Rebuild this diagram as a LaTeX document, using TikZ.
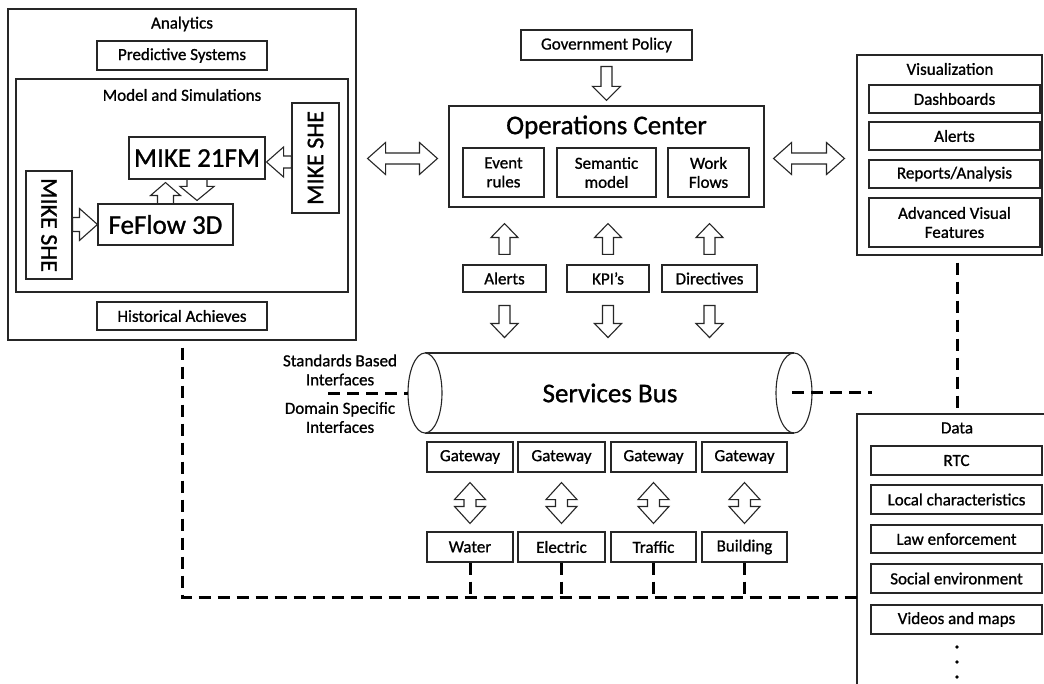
\documentclass[tikz,border=0pt]{standalone}
\usepackage{fontspec}
\setmainfont{Carlito}[FakeBold=1.0]
\usetikzlibrary{calc}
\newcommand\lblfnt{\fontsize{17}{19}\selectfont}
\newcommand\bigfnt{\fontsize{27}{29}\selectfont}
\newcommand\mikefnt{\fontsize{24}{26}\selectfont}
\tikzset{
 box/.style={draw=black!85, line width=1.1pt, fill=white, inner sep=0pt, align=center, font=\lblfnt},
 plain/.style={inner sep=0pt, align=center, font=\lblfnt},
 blk/.style={draw=black!85, line width=1.1pt, fill=white, line join=miter},
 busline/.style={draw=black!85, line width=1.1pt},
 dashline/.style={line width=3pt, dash pattern=on 12pt off 7pt},
}
% #1 tail, #2 tip, #3 shaft half width, #4 head half width, #5 head length
\newcommand\blkDown[5]{\draw[blk] let \p1=#1, \p2=#2 in (\x2-#3,\y1) -- (\x2+#3,\y1) -- (\x2+#3,\y2+#5) -- (\x2+#4,\y2+#5) -- (\x2,\y2) -- (\x2-#4,\y2+#5) -- (\x2-#3,\y2+#5) -- cycle;}
\newcommand\blkUp[5]{\draw[blk] let \p1=#1, \p2=#2 in (\x2-#3,\y1) -- (\x2+#3,\y1) -- (\x2+#3,\y2-#5) -- (\x2+#4,\y2-#5) -- (\x2,\y2) -- (\x2-#4,\y2-#5) -- (\x2-#3,\y2-#5) -- cycle;}
\newcommand\blkLeft[5]{\draw[blk] let \p1=#1, \p2=#2 in (\x1,\y2+#3) -- (\x1,\y2-#3) -- (\x2+#5,\y2-#3) -- (\x2+#5,\y2-#4) -- (\x2,\y2) -- (\x2+#5,\y2+#4) -- (\x2+#5,\y2+#3) -- cycle;}
\newcommand\blkRight[5]{\draw[blk] let \p1=#1, \p2=#2 in (\x1,\y2+#3) -- (\x1,\y2-#3) -- (\x2-#5,\y2-#3) -- (\x2-#5,\y2-#4) -- (\x2,\y2) -- (\x2-#5,\y2+#4) -- (\x2-#5,\y2+#3) -- cycle;}
\newcommand\blkDblH[5]{\draw[blk] let \p1=#1, \p2=#2 in (\x1,\y1) -- (\x1+#5,\y1+#4) -- (\x1+#5,\y1+#3) -- (\x2-#5,\y1+#3) -- (\x2-#5,\y1+#4) -- (\x2,\y1) -- (\x2-#5,\y1-#4) -- (\x2-#5,\y1-#3) -- (\x1+#5,\y1-#3) -- (\x1+#5,\y1-#4) -- cycle;}
\newcommand\blkDblV[5]{\draw[blk] let \p1=#1, \p2=#2 in (\x1,\y1) -- (\x1+#4,\y1-#5) -- (\x1+#3,\y1-#5) -- (\x1+#3,\y2+#5) -- (\x1+#4,\y2+#5) -- (\x1,\y2) -- (\x1-#4,\y2+#5) -- (\x1-#3,\y2+#5) -- (\x1-#3,\y1-#5) -- (\x1-#4,\y1-#5) -- cycle;}

\begin{document}
\begin{tikzpicture}[x=1pt,y=-1pt]
\useasboundingbox (0,0) rectangle (1044,684);
\fill[white] (0,0) rectangle (1044,684);

% ---------- Analytics ----------
\node[box, minimum width=348pt, minimum height=331pt] (analytics) at (182,174.5) {};
\node[plain] (analyticslbl) at (182,24) {Analytics};
\node[box, minimum width=170pt, minimum height=29pt] (predictive) at (182,55.5) {Predictive Systems};
\node[box, minimum width=332pt, minimum height=213pt] (modelsim) at (182,185.5) {};
\node[plain] (modellbl) at (182,95) {Model and Simulations};
\node[box, minimum width=47pt, minimum height=110pt] (mikeR) at (315.5,158) {\rotatebox{90}{\mikefnt MIKE SHE}};
\node[box, minimum width=46pt, minimum height=108pt] (mikeL) at (49,225) {\rotatebox{-90}{\mikefnt MIKE SHE}};
\node[box, minimum width=136pt, minimum height=42pt, font=\bigfnt] (mike21) at (197,158) {MIKE 21FM};
\node[box, minimum width=135pt, minimum height=41pt, font=\bigfnt] (feflow) at (165.5,224.5) {FeFlow 3D};
\node[box, minimum width=170pt, minimum height=28pt] (historical) at (182,316) {Historical Achieves};

\blkLeft{(mikeR.west |- mike21.east)}{($(mike21.east)+(1,4)$)}{6pt}{15pt}{17pt}
\blkRight{(mikeL.east)}{(feflow.west)}{7pt}{16pt}{18pt}
\draw[blk, fill=none] let \p1=(feflow.north), \p2=($(feflow.north |- mike21.south)+(0,3)$) in
  (\x1-8pt,\y1) -- (\x1-8pt,\y2-13pt) -- (\x1-15pt,\y2-13pt) -- (\x1,\y2) -- (\x1+15pt,\y2-13pt) -- (\x1+8pt,\y2-13pt) -- (\x1+8pt,\y1);
\draw[blk, fill=none] let \p1=(mike21.south), \p2=($(mike21.south |- feflow.north)+(0,-3)$) in
  (\x1-10pt,\y1) -- (\x1-10pt,\y2+14pt) -- (\x1-17pt,\y2+14pt) -- (\x1,\y2) -- (\x1+17pt,\y2+14pt) -- (\x1+10pt,\y2+14pt) -- (\x1+10pt,\y1);

% ---------- Operations ----------
\node[box, minimum width=171pt, minimum height=30pt] (gov) at (606.5,45) {Government Policy};
\node[box, minimum width=315pt, minimum height=101pt] (ops) at (606.5,156.5) {};
\node[plain, font=\bigfnt] (opslbl) at (606.5,127) {Operations Center};
\node[box, minimum width=81pt, minimum height=49pt] (event) at (503.5,172.5) {Event\\rules};
\node[box, minimum width=99pt, minimum height=49pt] (semantic) at (606.5,172.5) {Semantic\\model};
\node[box, minimum width=81pt, minimum height=49pt] (work) at (708.5,172.5) {Work\\Flows};
\node[box, minimum width=83pt, minimum height=27pt] (alerts) at (504.5,278.5) {Alerts};
\node[box, minimum width=82pt, minimum height=27pt] (kpi) at (608,278.5) {KPI’s};
\node[box, minimum width=95pt, minimum height=27pt] (directives) at (709.5,278.5) {Directives};

\blkDown{($(gov.south)+(0,6)$)}{($(ops.north)+(0,-5)$)}{5.5pt}{14pt}{14pt}
\foreach \bx in {alerts,kpi,directives}{
  \blkUp{($(\bx.north)+(0,-10)$)}{($(\bx.north |- ops.south)+(0,16)$)}{5.5pt}{13.5pt}{14pt}
  \blkDown{($(\bx.south)+(0,13)$)}{($(\bx.south)+(0,45)$)}{5.5pt}{13.5pt}{14pt}
}

% ---------- Visualization ----------
\node[box, minimum width=185pt, minimum height=200pt] (viz) at (949.5,155) {};
\node[plain] (vizlbl) at (950,69) {Visualization};
\node[box, minimum width=171pt, minimum height=28pt] (dash) at (954.5,99) {Dashboards};
\node[box, minimum width=171pt, minimum height=28pt] (valerts) at (954.5,136) {Alerts};
\node[box, minimum width=171pt, minimum height=28pt] (reports) at (954.5,174) {Reports/Analysis};
\node[box, minimum width=171pt, minimum height=49pt] (advanced) at (954.5,222.5) {Advanced Visual\\Features};

\blkDblH{($(analytics.east |- ops.west)+(11,2)$)}{($(ops.west)+(-11,2)$)}{5.5pt}{16pt}{18pt}
\blkDblH{($(ops.east)+(9,2)$)}{($(viz.west |- ops.east)+(-12,2)$)}{5.5pt}{16pt}{18pt}

% ---------- Services bus ----------
\fill[white] (425,353) rectangle (794,433);
\draw[busline] (425,353) -- (794,353);
\draw[busline] (425,433) -- (794,433);
\draw[busline, fill=white] (425,393) ellipse[x radius=17, y radius=40];
\draw[busline] (794,393) ellipse[x radius=18, y radius=40];
\node[plain, font=\bigfnt] (bus) at (610,393) {Services Bus};
\coordinate (busL) at (408,394);
\coordinate (busR) at (792,393);
\coordinate (ifc) at (328,394);
\coordinate (busout) at (872,393);
\node[plain] (std) at (340,370) {Standards Based\\Interfaces};
\node[plain] (dom) at (340,417.5) {Domain Specific\\Interfaces};

\node[box, minimum width=86pt, minimum height=30pt] (g1) at (470,457) {Gateway};
\node[box, minimum width=87pt, minimum height=30pt] (g2) at (561.5,457) {Gateway};
\node[box, minimum width=85pt, minimum height=30pt] (g3) at (653.5,457) {Gateway};
\node[box, minimum width=85pt, minimum height=30pt] (g4) at (744.5,457) {Gateway};
\node[box, minimum width=86pt, minimum height=30pt] (w1) at (470,547) {Water};
\node[box, minimum width=87pt, minimum height=30pt] (w2) at (561.5,547) {Electric};
\node[box, minimum width=85pt, minimum height=30pt] (w3) at (653.5,547) {Traffic};
\node[box, minimum width=85pt, minimum height=30pt] (w4) at (744.5,547) {Building};
\foreach \ii in {1,2,3,4}{
  \blkDblV{($(g\ii.south)+(0,10)$)}{($(w\ii.north)+(0,-8)$)}{6pt}{15.5pt}{17pt}
}

% ---------- Data ----------
\draw[busline] (1050,414) -- (857,414) -- (857,690);
\node[plain] (datalbl) at (957,428) {Data};
\coordinate (datatop) at (957,414);
\coordinate (dataL) at (857,597);
\node[box, minimum width=171pt, minimum height=29pt] (rtc) at (956.5,460.5) {RTC};
\node[box, minimum width=171pt, minimum height=29pt] (local) at (956.5,499.5) {Local characteristics};
\node[box, minimum width=171pt, minimum height=28pt] (law) at (956.5,539) {Law enforcement};
\node[box, minimum width=171pt, minimum height=29pt] (social) at (956.5,578.5) {Social environment};
\node[box, minimum width=171pt, minimum height=29pt] (videos) at (956.5,619.5) {Videos and maps};
\foreach \yy in {647,662,677} \fill (957,\yy) circle (1.8pt);

% ---------- Dashed links ----------
\draw[dashline] ($(analytics.south)+(0,7)$) -- (analytics.south |- dataL) -- (dataL);
\foreach \ii in {1,2,3,4} \draw[dashline] (w\ii.south) -- (w\ii.south |- dataL);
\draw[dashline] ($(datatop |- viz.south)+(0,7)$) -- (datatop);
\draw[dashline] (ifc) -- (busL);
\draw[dashline] (busR) -- (busout);
\end{tikzpicture}
\end{document}
